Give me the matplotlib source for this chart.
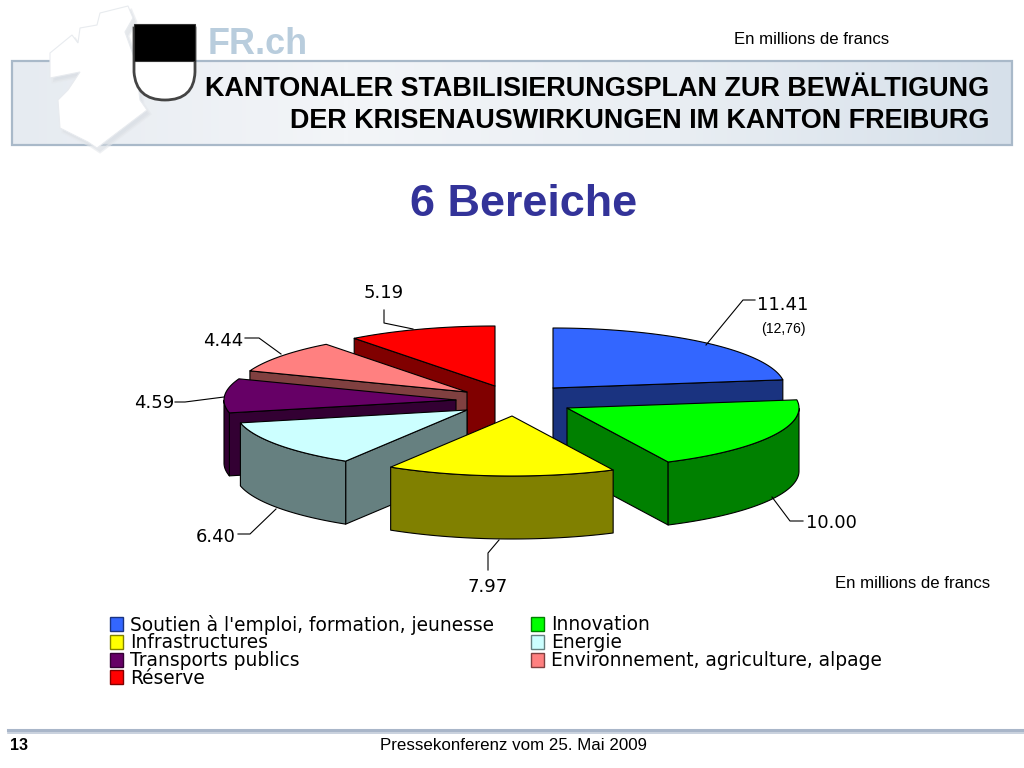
import numpy as np
import matplotlib
matplotlib.use("Agg")
import matplotlib.pyplot as plt
from matplotlib.colors import LinearSegmentedColormap
from matplotlib.patches import Polygon, Rectangle, PathPatch
from matplotlib.path import Path

# data
categories = ["Soutien à l'emploi, formation, jeunesse", "Innovation", "Infrastructures", "Energie",
              "Transports publics", "Environnement, agriculture, alpage", "Réserve"]
values = [11.41, 10.00, 7.97, 6.40, 4.59, 4.44, 5.19]

# slice colours, top and side
top_colors = ["#3366ff", "#00ff00", "#ffff00", "#ccffff", "#660066", "#ff8080", "#ff0000"]
side_colors = ["#1a3380", "#008000", "#808000", "#668080", "#330033", "#804040", "#800000"]

# pie layout, in pixels
center = (510, 397)
rx, ry, depth = 232, 60, 63
explode = [(43, -9), (57, 11), (2, 19), (-43, 13), (-54, 3), (-43, -5), (-15, -11)]
draw_order = [6, 0, 5, 4, 1, 3, 2]

# leader lines: elbow points and label anchor for each slice
leaders = [
    [(706, 345), (743, 300), (755, 300)],
    [(772, 497), (790, 521), (803, 521)],
    [(499, 540), (488, 553), (488, 570)],
    [(276, 509), (250, 534), (238, 534)],
    [(224, 397), (185, 402), (175, 402)],
    [(281, 354), (259, 338), (245, 338)],
    [(413, 329), (384, 323), (384, 310)],
]
label_pos = [(757, 305, "left"), (806, 523, "left"), (488, 587, "center"), (236, 537, "right"),
             (174, 403, "right"), (243, 341, "right"), (384, 293, "center")]

fig = plt.figure(figsize=(10.24, 7.68), dpi=100)
ax = fig.add_axes([0, 0, 1, 1])


def px(size):
    return size * 0.72


# header band
band = LinearSegmentedColormap.from_list("band", ["#e6ebf1", "#f3f5f8", "#e9eef3", "#d6e0ea"])
ax.imshow(np.linspace(0, 1, 256).reshape(1, -1), cmap=band, extent=(12, 1012, 145, 61), aspect="auto", zorder=1)
ax.add_patch(Rectangle((12, 61), 1000, 84, fill=False, edgecolor="#a9b9c9", lw=1.6, zorder=2))

# canton outline
canton = [(100, 13), (128, 6), (133, 18), (125, 32), (135, 60), (140, 100), (147, 110), (97, 148), (88, 142),
          (60, 128), (58, 100), (68, 90), (80, 72), (50, 78), (50, 53), (72, 35), (78, 43), (80, 28), (97, 25)]
shadow = [(x + 3, y + 4) for x, y in canton]
ax.add_patch(Polygon(shadow, closed=True, facecolor="#d4d9df", edgecolor="#e4e7eb", lw=2, alpha=0.6, zorder=3))
ax.add_patch(Polygon(canton, closed=True, facecolor="white", edgecolor="#e8ebef", lw=0.8, zorder=4))

# shield
shield_verts = [(134, 28), (134, 72), (136, 100), (165, 100), (194, 100), (195, 72), (195, 28), (134, 28)]
shield_codes = [Path.MOVETO, Path.LINETO, Path.CURVE3, Path.CURVE3, Path.CURVE3, Path.CURVE3, Path.LINETO, Path.CLOSEPOLY]
ax.add_patch(PathPatch(Path(shield_verts, shield_codes), facecolor="white", edgecolor="#444444", lw=2, zorder=5))
ax.add_patch(Rectangle((134, 24), 61, 37, facecolor="black", edgecolor="#333333", lw=0.8, zorder=6))

ax.text(208, 45, "FR.ch", family="Liberation Sans", weight="bold", fontsize=px(36), color="#b9cddd",
        ha="left", va="center", zorder=3)

ax.text(811.5, 39.5, "En millions de francs", family="Liberation Sans", fontsize=px(16.8), ha="center", va="center")
ax.text(989, 89, "KANTONALER STABILISIERUNGSPLAN ZUR BEWÄLTIGUNG", family="Liberation Sans", weight="bold",
        fontsize=px(27), ha="right", va="center", zorder=6)
ax.text(989, 121, "DER KRISENAUSWIRKUNGEN IM KANTON FREIBURG", family="Liberation Sans", weight="bold",
        fontsize=px(27), ha="right", va="center", zorder=6)
ax.text(524, 205, "6 Bereiche", family="Liberation Sans", weight="bold", fontsize=px(45), color="#333399",
        ha="center", va="center")

# exploded 3d pie, slices go clockwise from the top
total = sum(values)
edges = 90 - np.cumsum([0] + values) / total * 360


def rim_point(apex, angle):
    return apex[0] + rx * np.cos(np.radians(angle)), apex[1] - ry * np.sin(np.radians(angle))


def draw_slice(i):
    a1, a2 = edges[i], edges[i + 1]
    apex = (center[0] + explode[i][0], center[1] + explode[i][1])
    base = 10 + draw_order.index(i)
    style = dict(edgecolor="black", lw=0.8, joinstyle="round", zorder=base)

    # radial faces that look towards the viewer
    for angle, normal in ((a1, a1 + 90), (a2, a2 - 90)):
        if np.sin(np.radians(normal)) < -1e-6:
            x, y = rim_point(apex, angle)
            face = [apex, (x, y), (x, y + depth), (apex[0], apex[1] + depth)]
            ax.add_patch(Polygon(face, closed=True, facecolor=side_colors[i], **style))

    # outer rim, front part only
    arc = np.linspace(a1, a2, 80)
    front = arc[np.sin(np.radians(arc)) < 0]
    if len(front) > 1:
        xs, ys = rim_point(apex, front)
        rim = list(zip(xs, ys)) + list(zip(xs[::-1], ys[::-1] + depth))
        ax.add_patch(Polygon(rim, closed=True, facecolor=side_colors[i], **style))

    # top
    xs, ys = rim_point(apex, arc)
    ax.add_patch(Polygon([apex] + list(zip(xs, ys)), closed=True, facecolor=top_colors[i], **style))


for i in draw_order:
    draw_slice(i)

# value labels
for value, pts, (x, y, ha) in zip(values, leaders, label_pos):
    ax.plot([p[0] for p in pts], [p[1] for p in pts], color="black", lw=0.8, zorder=30)
    ax.text(x, y, f"{value:.2f}", family="DejaVu Sans", fontsize=px(18), ha=ha, va="center", zorder=30)
ax.text(783, 328.5, "(12,76)", family="Liberation Sans", fontsize=px(14), ha="center", va="center", zorder=30)
ax.text(913, 583.5, "En millions de francs", family="Liberation Sans", fontsize=px(16.8), ha="center", va="center")

# legend, two columns filled row by row
for i, name in enumerate(categories):
    col, row = i % 2, i // 2
    x = 110 + col * 421
    y = 624 + row * 17.8
    ax.add_patch(Rectangle((x, y - 7), 13, 14, facecolor=top_colors[i], edgecolor=side_colors[i], lw=1.0))
    ax.text(x + 20, y + 1, name, family="DejaVu Sans", fontsize=px(18.6), ha="left", va="center")

# footer
ax.plot([8, 1024], [729.5, 729.5], color="#a9b6c9", lw=2.2)
ax.plot([8, 1024], [733, 733], color="#c0cad8", lw=1.2)
ax.text(10, 746, "13", family="Liberation Sans", weight="bold", fontsize=px(16), ha="left", va="center")
ax.text(513, 745.5, "Pressekonferenz vom 25. Mai 2009", family="Liberation Sans", fontsize=px(16.9), ha="center", va="center")

ax.set_xlim(0, 1024)
ax.set_ylim(768, 0)
ax.axis("off")

fig.savefig("out.png", dpi=100)
